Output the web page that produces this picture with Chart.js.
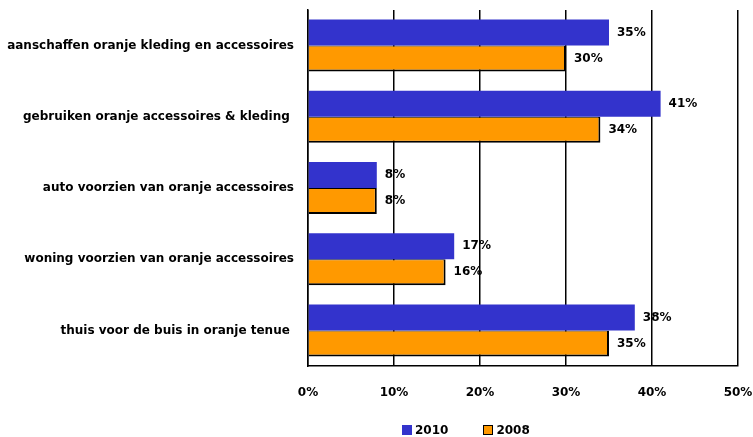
<!DOCTYPE html>
<html>
<head>
<meta charset="utf-8">
<script src="https://cdn.jsdelivr.net/npm/chart.js@4"></script>
<style>
  body { margin: 0; background: #fff; }
  #wrap { position: relative; width: 753px; height: 437px; }
  #legend { position: absolute; left: 402px; top: 423px; font: bold 12px "DejaVu Sans", sans-serif; color: #000; display: flex; }
  .item { display: flex; align-items: center; margin-right: 35px; }
  .box { width: 10px; height: 10px; margin-right: 3px; box-sizing: border-box; }
</style>
</head>
<body>
<div id="wrap">
  <canvas id="chart" width="753" height="437"></canvas>
  <div id="legend"></div>
</div>
<script>
// Oranje koorts: aandeel per activiteit, 2010 vs 2008

const categories = [
    'aanschaffen oranje kleding en accessoires',
    'gebruiken oranje accessoires & kleding ',
    'auto voorzien van oranje accessoires',
    'woning voorzien van oranje accessoires',
    'thuis voor de buis in oranje tenue '
]
const values2010 = [35, 41, 8, 17, 38]
const values2008 = [30, 34, 8, 16, 35]
const seriesNames = ['2010', '2008']

const blue = '#3333CC'
const orange = '#FF9900'
const font = { family: '"DejaVu Sans", sans-serif', size: 12, weight: 'bold' }

const valueLabels = {
    id: 'valueLabels',
    afterDatasetsDraw(chart) {
        const c = chart.ctx
        c.save()
        c.font = `bold 12px ${font.family}`
        c.fillStyle = '#000'
        c.textBaseline = 'middle'
        chart.data.datasets.forEach((ds, i) => {
            chart.getDatasetMeta(i).data.forEach((bar, j) => {
                c.fillText(ds.data[j] + '%', bar.x + 8, bar.y)
            })
        })
        c.restore()
    }
}

const ctx = document.getElementById('chart').getContext('2d')

const chart = new Chart(ctx, {
    type: 'bar',
    data: {
        labels: categories,
        datasets: [
            {
                label: seriesNames[0],
                data: values2010,
                backgroundColor: blue,
                borderWidth: 0,
                categoryPercentage: 0.73,
                barPercentage: 1
            },
            {
                label: seriesNames[1],
                data: values2008,
                backgroundColor: orange,
                borderColor: '#000',
                borderWidth: { top: 1, right: 2, bottom: 2, left: 0 },
                borderSkipped: false,
                categoryPercentage: 0.73,
                barPercentage: 1
            }
        ]
    },
    options: {
        indexAxis: 'y',
        responsive: false,
        animation: false,
        layout: { padding: { top: 10, right: 15, left: 0, bottom: 0 } },
        plugins: {
            legend: { display: false },
            tooltip: { enabled: false }
        },
        scales: {
            x: {
                min: 0,
                max: 50,
                ticks: {
                    stepSize: 10,
                    callback: v => v + '%',
                    color: '#000',
                    font: font,
                    padding: 20,
                    maxRotation: 0
                },
                grid: { color: '#000', lineWidth: 1.5, drawTicks: false },
                border: { color: '#000', width: 1.5 },
                afterFit: scale => {
                    scale.height = 71
                    scale.paddingLeft = 0
                    scale.paddingRight = 0
                }
            },
            y: {
                ticks: { color: '#000', font: font, padding: 14 },
                grid: { display: false, drawTicks: false },
                border: { color: '#000', width: 1.5 },
                afterFit: scale => {
                    scale.width = 308
                    scale.paddingTop = 0
                    scale.paddingBottom = 0
                }
            }
        }
    },
    plugins: [valueLabels]
})

// legend
const legend = document.getElementById('legend')
chart.data.datasets.forEach(ds => {
    const item = document.createElement('div')
    item.className = 'item'
    const box = document.createElement('span')
    box.className = 'box'
    box.style.background = ds.backgroundColor
    if (ds.borderWidth) box.style.border = '1px solid #000'
    item.appendChild(box)
    item.appendChild(document.createTextNode(ds.label))
    legend.appendChild(item)
})
</script>
</body>
</html>
